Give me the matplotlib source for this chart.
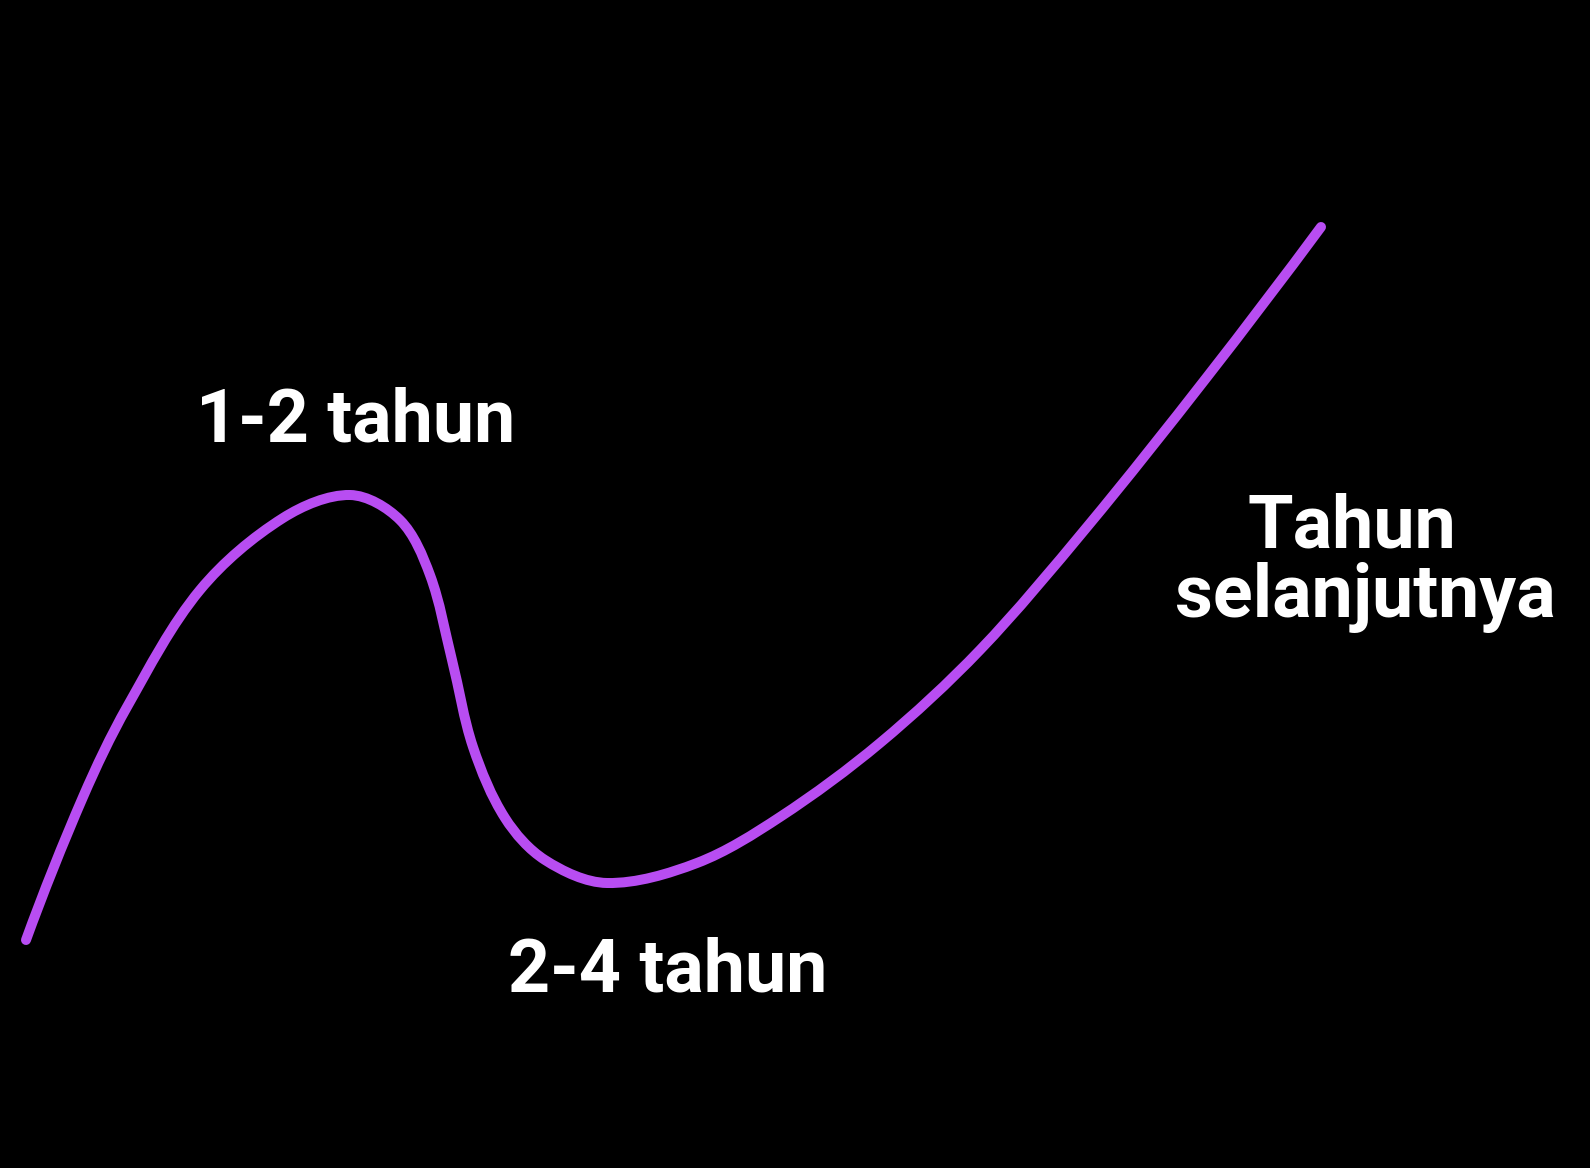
import numpy as np
import matplotlib.pyplot as plt
from matplotlib.path import Path
from matplotlib.patches import PathPatch

# curve anchors (pixel space, y grows downward)
curve_x = [26, 83, 127, 200, 283, 350, 400, 430, 452, 473, 505, 545, 607, 697, 780, 880, 980,
           1087, 1207, 1321]
curve_y = [940, 797, 707, 590, 518, 495, 520, 575, 660, 747, 818, 860, 883, 863, 817, 743, 650,
           527, 377, 227]

labels = ['1-2 tahun', '2-4 tahun', 'Tahun', 'selanjutnya']
label_x = [356, 668, 1352, 1365]
label_y = [442, 992, 547, 617]

fig = plt.figure(figsize=(15.9, 11.68), dpi=100)
fig.patch.set_facecolor('black')
ax = fig.add_axes([0, 0, 1, 1])
ax.set_facecolor('black')

# smooth hand-drawn look: chord-length catmull-rom turned into bezier segments
pts = np.column_stack([curve_x, curve_y]).astype(float)
seg = np.hypot(*np.diff(pts, axis=0).T)
t = np.concatenate([[0], np.cumsum(seg)])
tang = np.zeros_like(pts)
tang[1:-1] = (pts[2:] - pts[:-2]) / (t[2:] - t[:-2])[:, None]
tang[0] = 2 * (pts[1] - pts[0]) / seg[0] - tang[1]
tang[-1] = 2 * (pts[-1] - pts[-2]) / seg[-1] - tang[-2]
verts = [pts[0]]
codes = [Path.MOVETO]
for i in range(len(pts) - 1):
    h = seg[i]
    verts += [pts[i] + tang[i] * h / 3, pts[i + 1] - tang[i + 1] * h / 3, pts[i + 1]]
    codes += [Path.CURVE4] * 3
line = PathPatch(Path(verts, codes), fill=False, edgecolor='#B84DF2', linewidth=7.2,
                 capstyle='round', joinstyle='round')
ax.add_patch(line)

for txt, x, y in zip(labels, label_x, label_y):
    ax.text(x, y, txt, color='white', fontsize=53, fontweight='bold',
            family=['Roboto', 'DejaVu Sans'], ha='center', va='baseline')

ax.set_xlim(0, 1590)
ax.set_ylim(1168, 0)
ax.axis('off')

fig.savefig('out.png', dpi=100, facecolor='black')
